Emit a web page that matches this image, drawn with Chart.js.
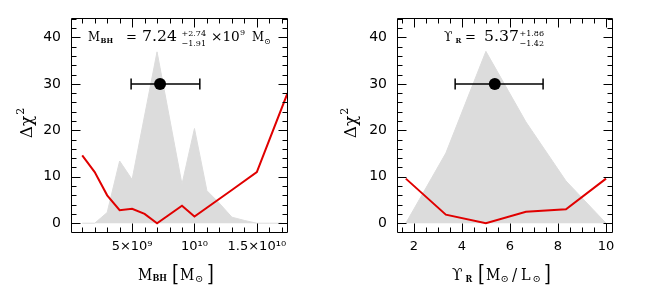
<!DOCTYPE html>
<html>
<head>
<meta charset="utf-8">
<script src="https://cdn.jsdelivr.net/npm/chart.js@4.4.0/dist/chart.umd.min.js"></script>
<style>
body { margin: 0; background: #fff; }
#wrap { position: relative; width: 648px; height: 289px; }
canvas { position: absolute; top: 0; }
</style>
</head>
<body>
<div id="wrap">
  <canvas id="left" width="324" height="289" style="left:0"></canvas>
  <canvas id="right" width="324" height="289" style="left:324px"></canvas>
</div>
<script>
// left panel: black hole mass, x in units of 1e9 Msun
const mbhShadeX = [1, 2, 3, 4, 5, 7, 9, 10, 11, 12, 13, 14, 15, 16, 17];
const mbhShadeY = [0, 0, 2.3, 13.4, 9.4, 36.9, 8.4, 20.4, 7.0, 4.3, 1.3, 0.6, 0, 0, 0];
const mbhChiX = [1, 2, 3, 4, 5, 6, 7, 9, 10, 13, 15, 17.46];
const mbhChiY = [14.6, 11.0, 6.0, 2.8, 3.1, 2.0, 0, 3.75, 1.45, 7.15, 11.0, 28.0];
const mbhBest = [7.24, 4.92, 10.43]; // best value, bar left end, bar right end
const mbhTicks = [5, 10, 15];
const mbhTickLabels = ['5×10⁹', '10¹⁰', '1.5×10¹⁰'];

// right panel: mass-to-light ratio
const mlX = [1.667, 3.333, 5, 6.667, 8.333, 10];
const mlShadeY = [0, 15.1, 37.0, 21.8, 9.1, 0];
const mlChiY = [9.6, 1.85, 0, 2.45, 3.0, 9.6];
const mlBest = [5.37, 3.72, 7.38];
const mlTicks = [2, 4, 6, 8, 10];
const mlTickLabels = ['2', '4', '6', '8', '10'];

const chiTicks = [0, 10, 20, 30, 40];
const barLevel = 30;

const SERIF = '"DejaVu Serif", serif';
const SANS = '"DejaVu Sans", sans-serif';

// minor tick settings per panel (kept outside the plugin options resolver)
const tickSetup = {
  left: { from: 1, step: 1, major: 5 },
  right: { from: 1.5, step: 0.5, major: 2 }
};

function pts(xs, ys) {
  return xs.map((x, i) => ({ x: x, y: ys[i] }));
}

// text pieces: [text, x, y, size, bold, squeeze]
function drawPieces(ctx, pieces) {
  ctx.fillStyle = '#000';
  ctx.textBaseline = 'alphabetic';
  ctx.textAlign = 'left';
  pieces.forEach(p => {
    ctx.save();
    ctx.font = (p[4] ? 'bold ' : '') + p[3] + 'px ' + SERIF;
    ctx.translate(p[1], p[2]);
    ctx.scale(p[5] || 1, 1);
    ctx.fillText(p[0], 0, 0);
    ctx.restore();
  });
}

function drawTicks(chart) {
  const { ctx, chartArea: a, scales: { x, y } } = chart;
  const t = tickSetup[chart.canvas.id];
  const L = Math.round(a.left) + 0.5, R = Math.round(a.right) - 0.5;
  const T = Math.round(a.top) + 0.5, B = Math.round(a.bottom) - 0.5;
  ctx.save();
  ctx.strokeStyle = '#000';
  ctx.lineWidth = 1;
  ctx.beginPath();
  ctx.rect(L, T, R - L, B - T);
  for (let k = 0; k < 100; k++) {
    const v = t.from + k * t.step;
    if (v >= x.max) break;
    if (v <= x.min) continue;
    const px = Math.round(x.getPixelForValue(v)) + 0.5;
    const r = v / t.major;
    const len = Math.abs(r - Math.round(r)) < 1e-6 ? 9 : 5;
    ctx.moveTo(px, B); ctx.lineTo(px, B - len);
    ctx.moveTo(px, T); ctx.lineTo(px, T + len);
  }
  for (let v = 0; v < y.max; v += 2) {
    const py = Math.round(y.getPixelForValue(v)) + 0.5;
    const len = v % 10 === 0 ? 9 : 5;
    ctx.moveTo(L, py); ctx.lineTo(L + len, py);
    ctx.moveTo(R, py); ctx.lineTo(R - len, py);
  }
  ctx.stroke();
  ctx.restore();
}

const frame = {
  id: 'frame',
  afterDraw(chart, args, o) {
    const ctx = chart.ctx;
    drawTicks(chart);

    // y title
    ctx.save();
    ctx.translate(25, 124);
    ctx.rotate(-Math.PI / 2);
    ctx.fillStyle = '#000';
    ctx.textBaseline = 'middle';
    ctx.textAlign = 'left';
    ctx.font = '17px ' + SERIF;
    const w = ctx.measureText('Δχ').width;
    ctx.fillText('Δχ', -w / 2 - 3, 3);
    ctx.font = '11px ' + SERIF;
    ctx.fillText('2', w / 2 - 2, -4);
    ctx.restore();

    drawPieces(ctx, o.title);
    drawPieces(ctx, o.note);
  }
};

function makeChart(id, cfg) {
  return new Chart(document.getElementById(id), {
    type: 'line',
    data: {
      datasets: [
        { // best-fit dot
          data: [{ x: cfg.best[0], y: barLevel }],
          showLine: false, pointRadius: 6, pointBackgroundColor: '#000',
          pointBorderWidth: 0
        },
        { // error bar with end caps
          data: [{ x: cfg.best[1], y: barLevel }, { x: cfg.best[2], y: barLevel }],
          borderColor: '#000', borderWidth: 1.5,
          pointStyle: 'line', rotation: 90, pointRadius: 5.5,
          pointBorderColor: '#000', pointBorderWidth: 1.5
        },
        { // delta chi2 curve
          data: pts(cfg.chiX, cfg.chiY),
          borderColor: '#e00000', borderWidth: 2, pointRadius: 0, tension: 0
        },
        { // shaded distribution
          data: pts(cfg.shadeX, cfg.shadeY),
          borderColor: '#dcdcdc', backgroundColor: '#dcdcdc', borderWidth: 1,
          fill: 'origin', pointRadius: 0, tension: 0
        }
      ]
    },
    options: {
      responsive: false,
      animation: false,
      layout: { padding: { top: 15, right: cfg.padRight, left: 0, bottom: 0 } },
      plugins: {
        legend: { display: false },
        tooltip: { enabled: false },
        frame: cfg.frame
      },
      scales: {
        x: {
          type: 'linear', min: cfg.xMin, max: cfg.xMax,
          grid: { display: false, drawTicks: false },
          border: { display: false },
          afterBuildTicks: s => { s.ticks = cfg.ticks.map(v => ({ value: v })); },
          afterFit: s => { s.height = 56.5; },
          ticks: {
            autoSkip: false, maxRotation: 0, padding: 6, color: '#000',
            font: { family: SANS, size: 13 },
            callback: (v, i) => cfg.tickLabels[i]
          }
        },
        y: {
          min: -2, max: 44.1,
          grid: { display: false, drawTicks: false },
          border: { display: false },
          afterBuildTicks: s => { s.ticks = chiTicks.map(v => ({ value: v })); },
          afterFit: s => { s.width = cfg.yWidth; },
          ticks: {
            padding: 10, color: '#000',
            font: { family: SANS, size: 14 }
          }
        }
      }
    },
    plugins: [frame]
  });
}

makeChart('left', {
  best: mbhBest, chiX: mbhChiX, chiY: mbhChiY, shadeX: mbhShadeX, shadeY: mbhShadeY,
  xMin: 0.1, xMax: 17.46, ticks: mbhTicks, tickLabels: mbhTickLabels,
  yWidth: 71, padRight: 36.5,
  frame: {
    title: [
      ['M', 138, 279.5, 17, false, 0.82], ['BH', 152.5, 281, 9, true, 0.9],
      ['[', 172, 281, 22, false, 0.8], ['M', 180, 279.5, 17, false, 0.82],
      ['⊙', 195, 282, 10], [']', 207, 281, 22, false, 0.8]
    ],
    note: [
      ['M', 88, 40.5, 13, false, 0.9], ['BH', 100.5, 42.5, 7, true], ['=', 126, 40.5, 13],
      ['7.24', 142, 40.5, 14, false, 1.12], ['+2.74', 181.5, 35.5, 8], ['−1.91', 181.5, 45.5, 8],
      ['×10', 211, 40.5, 13, false, 1.05], ['9', 240, 35, 8], ['M', 252, 40.5, 13, false, 0.9],
      ['⊙', 264, 43.5, 8]
    ]
  }
});

makeChart('right', {
  best: mlBest, chiX: mlX, chiY: mlChiY, shadeX: mlX, shadeY: mlShadeY,
  xMin: 1.3, xMax: 10.29, ticks: mlTicks, tickLabels: mlTickLabels,
  yWidth: 73, padRight: 35,
  frame: {
    title: [
      ['ϒ', 128, 279.5, 17, false, 0.9], ['R', 141.5, 282, 9, true, 0.9],
      ['[', 154, 281, 22, false, 0.8], ['M', 162, 279.5, 17, false, 0.82],
      ['⊙', 176.5, 282, 10], ['/', 188, 279.5, 17, false, 0.9],
      ['L', 197, 279.5, 17, false, 0.85], ['⊙', 208.5, 282, 10],
      [']', 220, 281, 22, false, 0.8]
    ],
    note: [
      ['ϒ', 120, 40.5, 13, false, 0.95], ['R', 131.5, 43, 7, true], ['=', 141, 40.5, 13],
      ['5.37', 160, 40.5, 14, false, 1.12], ['+1.86', 195.5, 35.5, 8], ['−1.42', 195.5, 45.5, 8]
    ]
  }
});
</script>
</body>
</html>
